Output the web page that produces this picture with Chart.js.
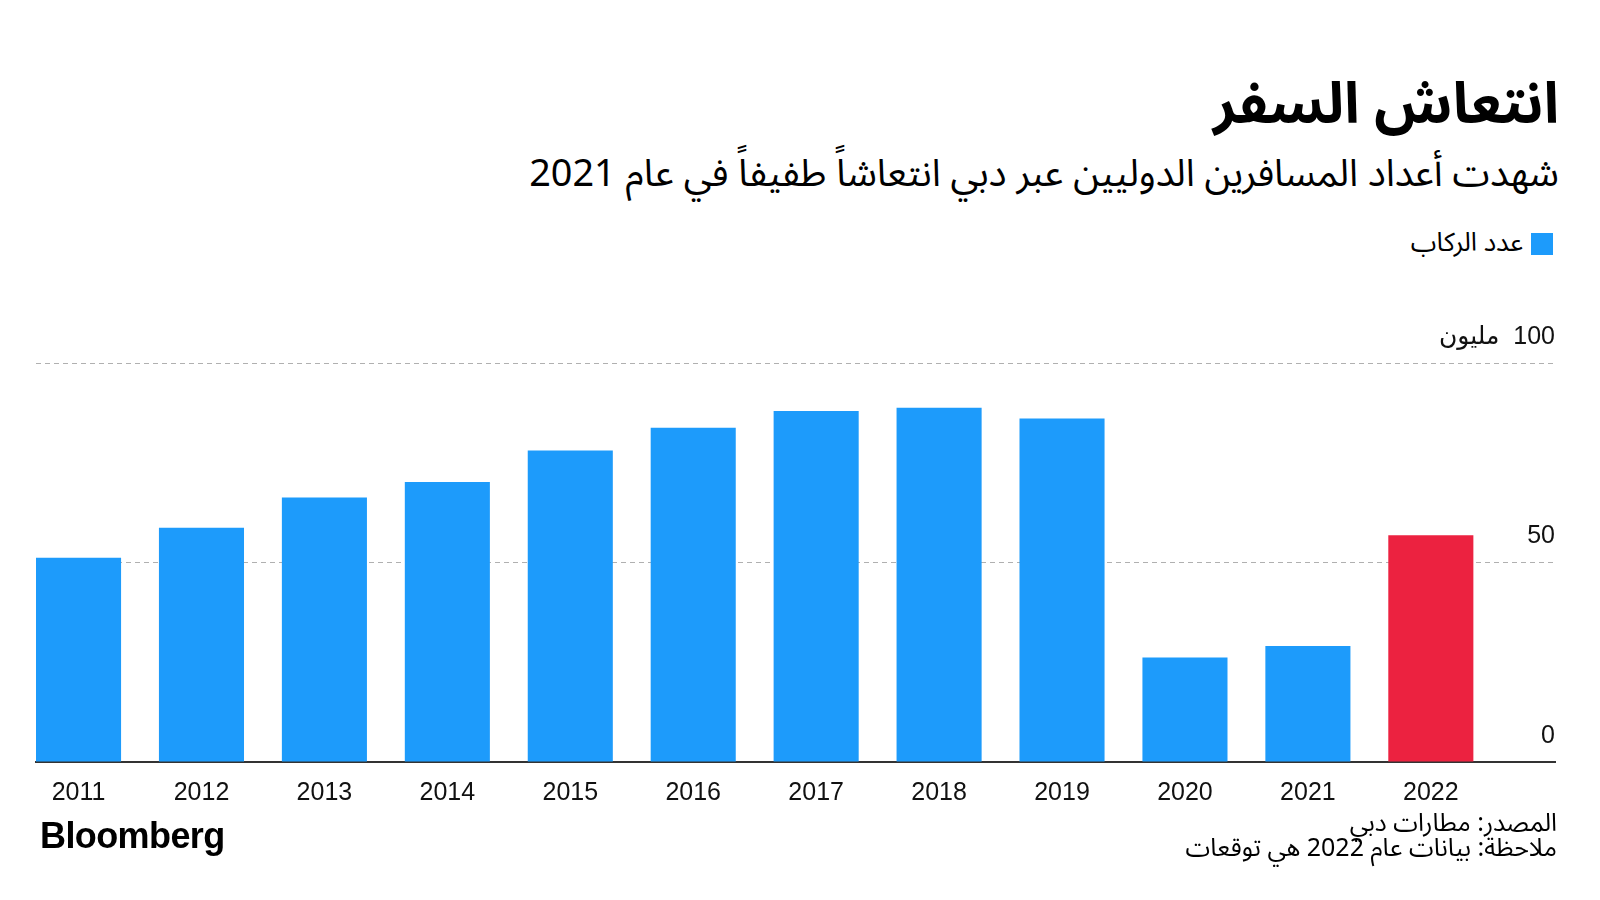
<!DOCTYPE html>
<html lang="ar">
<head>
<meta charset="utf-8">
<script src="https://cdn.jsdelivr.net/npm/chart.js@4"></script>
<style>
  html, body { margin: 0; padding: 0; background: #fff; }
  body { width: 1600px; height: 900px; position: relative; overflow: hidden; font-family: "Noto Sans Arabic", "DejaVu Sans", sans-serif; color: #000; }
  .rtl { position: absolute; direction: rtl; text-align: right; white-space: nowrap; }
  #title { right: 41px; top: 77px; font-size: 57px; font-weight: bold; line-height: 1; }
  #subtitle { right: 41px; top: 156px; font-size: 37.8px; line-height: 1; }
  #legend { right: 47px; top: 228px; font-size: 26px; line-height: 30px; }
  #legend span.box { display: inline-block; width: 22px; height: 22px; background: #1d9bfb; vertical-align: middle; margin-left: 8px; }
  #source { right: 43px; top: 811px; font-size: 25px; line-height: 25px; }
  #brand { position: absolute; left: 40px; top: 815px; font-family: "Liberation Sans", Arial, sans-serif; font-weight: bold; font-size: 36px; letter-spacing: -0.6px; }
  #wrap { position: absolute; left: 0; top: 0; width: 1600px; height: 900px; }
</style>
</head>
<body>
<div id="title" class="rtl">انتعاش السفر</div>
<div id="subtitle" class="rtl">شهدت أعداد المسافرين الدوليين عبر دبي انتعاشاً طفيفاً في عام 2021</div>
<div id="legend" class="rtl"><span class="box"></span>عدد الركاب</div>
<div id="wrap"><canvas id="passengersChart" width="1600" height="900"></canvas></div>
<div id="brand">Bloomberg</div>
<div id="source" class="rtl">المصدر: مطارات دبي<br>ملاحظة: بيانات عام 2022 هي توقعات</div>

<script>
// بيانات الرسم (مليون راكب)
const years = [2011, 2012, 2013, 2014, 2015, 2016, 2017, 2018, 2019, 2020, 2021, 2022];
const passengers = [51.2, 58.7, 66.3, 70.2, 78.1, 83.8, 88.0, 88.8, 86.1, 26.2, 29.1, 56.8];
const forecastYears = [2022];
const yTicks = [0, 50, 100];
const seriesLabel = 'عدد الركاب';
const unitLabel = 'مليون';

const blue = '#1d9bfb';
const red = '#ec2240';

const points = years.map(function (y, i) { return { x: y, y: passengers[i] }; });

const ctx = document.getElementById('passengersChart').getContext('2d');
new Chart(ctx, {
    type: 'bar',
    data: {
        datasets: [{
            label: seriesLabel,
            data: points,
            backgroundColor: function (c) {
                const p = c.raw;
                return p && forecastYears.includes(p.x) ? red : blue;
            },
            barPercentage: 0.692,
            categoryPercentage: 1,
            borderWidth: 0
        }]
    },
    options: {
        responsive: false,
        animation: false,
        layout: { padding: { top: 363, left: 36, right: 45, bottom: 78 } },
        plugins: { legend: { display: false }, tooltip: { enabled: false } },
        scales: {
            x: {
                type: 'linear',
                offset: false,
                min: 2010.654,
                max: 2023.01,
                grid: { display: false, drawTicks: false },
                border: { display: true, color: '#333', width: 2 },
                afterFit: function (s) { s.height = 60; },
                ticks: {
                    stepSize: 1,
                    includeBounds: false,
                    autoSkip: false,
                    maxRotation: 0,
                    padding: 16,
                    color: '#111',
                    font: { family: '"Liberation Sans", Arial, sans-serif', size: 25 },
                    callback: function (v) {
                        return years.includes(v) ? String(v) : '';
                    }
                }
            },
            y: {
                position: 'right',
                min: 0,
                max: 100,
                afterFit: function (s) { s.width = 0; },
                afterBuildTicks: function (s) { s.ticks = yTicks.map(function (v) { return { value: v }; }); },
                grid: {
                    drawTicks: false,
                    color: function (c) { return c.tick && c.tick.value === 0 ? 'rgba(0,0,0,0)' : '#b0b0b0'; },
                    lineWidth: 1
                },
                border: { display: false, dash: [5, 4] },
                ticks: {
                    mirror: true,
                    padding: 0,
                    labelOffset: -26,
                    color: '#111',
                    font: { family: '"Liberation Sans", Arial, "DejaVu Sans", sans-serif', size: 25 },
                    callback: function (v) {
                        return v === 100 ? unitLabel + '\u200E  ' + v : String(v);
                    }
                }
            }
        }
    }
});
</script>
</body>
</html>
